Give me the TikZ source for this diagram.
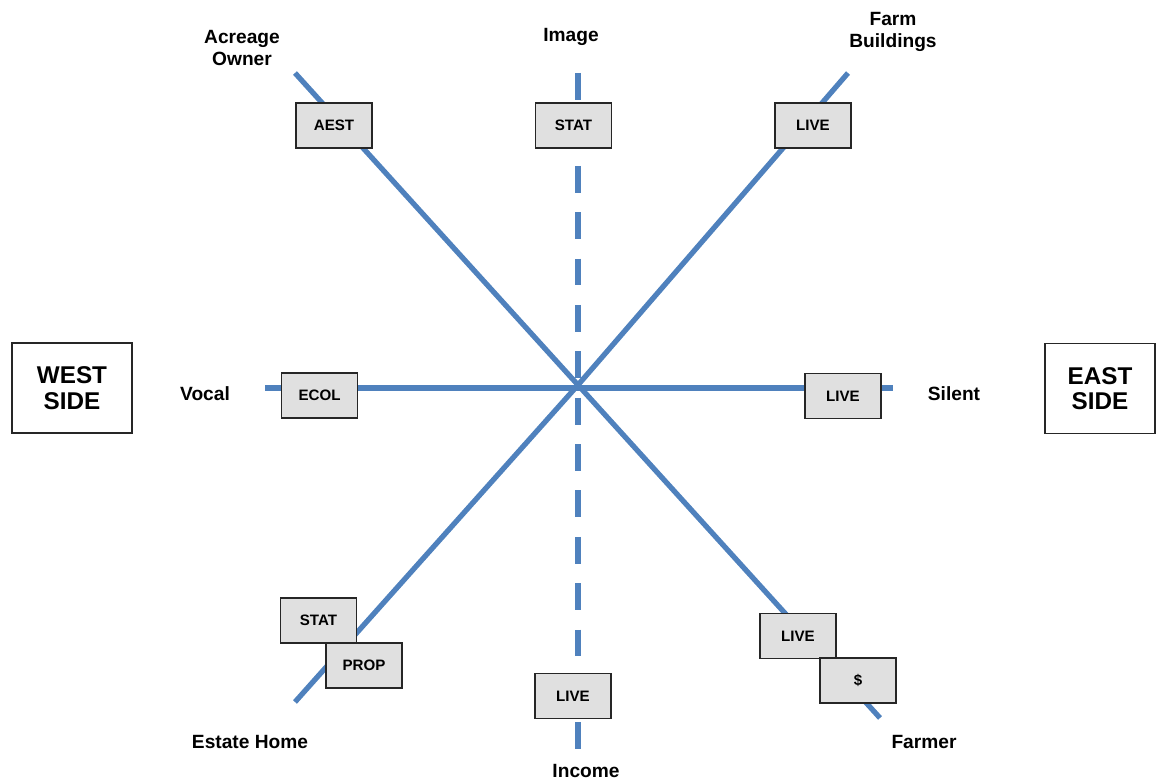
\documentclass[tikz,border=0pt]{standalone}
\usepackage{fontspec}
\setmainfont{Liberation Sans}
\begin{document}
\definecolor{axisblue}{RGB}{79,129,189}
\definecolor{boxgray}{RGB}{224,224,224}
\tikzset{
  axis/.style={draw=axisblue, line width=3pt},
  dashaxis/.style={axis, dash pattern=on 15.3pt off 11.1pt},
  tag/.style={draw=black!85, line width=0.8pt, fill=boxgray, minimum width=1.52cm,
    minimum height=0.9cm, inner sep=0pt, font=\fontsize{8.6}{10}\selectfont\bfseries},
  pole/.style={font=\fontsize{10.9}{12.5}\selectfont\bfseries, align=center, inner sep=0pt},
  side/.style={draw=black!85, line width=0.8pt, fill=white, minimum width=2.4cm,
    minimum height=1.8cm, inner sep=0pt, align=center,
    font=\fontsize{13.8}{14.5}\selectfont\bfseries}
}
\begin{tikzpicture}[x=0.02cm, y=-0.02cm]
  \useasboundingbox (0,0) rectangle (1156,780);

  % axis end points and the crossing point
  \coordinate (c) at (578,385);
  \coordinate (nwEnd) at (295,73);
  \coordinate (seEnd) at (880,718);
  \coordinate (neEnd) at (848,73);
  \coordinate (swEnd) at (295,702);
  \coordinate (wEnd) at (265,388);
  \coordinate (eEnd) at (893,388);
  \coordinate (nEnd) at (578,73);
  \coordinate (sEnd) at (578,750);

  % axes
  \draw[axis] (nwEnd) -- (c) -- (seEnd);
  \draw[axis] (swEnd) -- (c) -- (neEnd);
  \draw[axis] (wEnd) -- (eEnd);
  \draw[dashaxis] (nEnd) -- (sEnd);

  % tags along the axes
  \node[tag] (aest) at (334,125.5) {AEST};
  \node[tag] (statN) at (573.5,125.5) {STAT};
  \node[tag] (liveNE) at (813,125.5) {LIVE};
  \node[tag] (ecol) at (319.5,395.5) {ECOL};
  \node[tag] (liveE) at (843,396) {LIVE};
  \node[tag] (statSW) at (318.5,620.5) {STAT};
  \node[tag] (prop) at (364,665.5) {PROP};
  \node[tag] (liveS) at (573,696) {LIVE};
  \node[tag] (liveSE) at (798,636) {LIVE};
  \node[tag] (dollar) at (858,680.5) {\$};

  % pole labels
  \node[pole] (acreage) at (242,48) {Acreage\\Owner};
  \node[pole] (image) at (571,37) {Image};
  \node[pole] (farmb) at (893,32) {Farm\\Buildings};
  \node[pole] (vocal) at (205,394) {Vocal};
  \node[pole] (silent) at (954,394) {Silent};
  \node[pole] (estate) at (250,742) {Estate Home};
  \node[pole] (income) at (586,771) {Income};
  \node[pole] (farmer) at (924,742) {Farmer};

  % sides
  \node[side] (west) at (72,388) {WEST\\SIDE};
  \node[side, minimum width=2.2cm] (east) at (1100,388.5) {EAST\\SIDE};
\end{tikzpicture}
\end{document}
